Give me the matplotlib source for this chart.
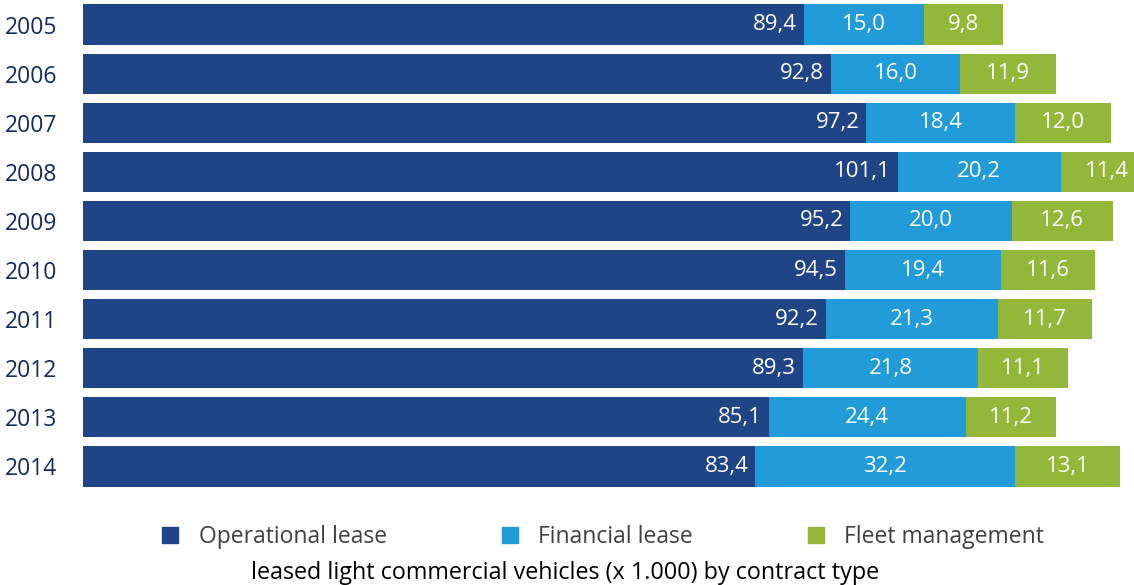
import numpy as np
import matplotlib.pyplot as plt
from matplotlib.patches import Patch

plt.rcParams['font.family'] = ['Open Sans', 'DejaVu Sans']

#### data (x 1.000 vehicles)
years = ['2005', '2006', '2007', '2008', '2009', '2010', '2011', '2012', '2013', '2014']
operational = [89.4, 92.8, 97.2, 101.1, 95.2, 94.5, 92.2, 89.3, 85.1, 83.4]
financial = [15.0, 16.0, 18.4, 20.2, 20.0, 19.4, 21.3, 21.8, 24.4, 32.2]
fleet = [9.8, 11.9, 12.0, 11.4, 12.6, 11.6, 11.7, 11.1, 11.2, 13.1]
series_names = ['Operational lease', 'Financial lease', 'Fleet management']

c_oper = '#1F4587'
c_fin = '#229BD9'
c_fleet = '#93B739'
c_year = '#14295C'


def fmt(v):
    return f'{v:.1f}'.replace('.', ',')


fig = plt.figure(figsize=(11.34, 5.85), dpi=100)
ax = fig.add_axes([83 / 1134, 94 / 585, 1 - 83 / 1134, 491 / 585])

y = np.arange(len(years))
op = np.array(operational)
fi = np.array(financial)
fl = np.array(fleet)
h = 0.82

ax.barh(y, op, height=h, color=c_oper)
ax.barh(y, fi, left=op, height=h, color=c_fin)
ax.barh(y, fl, left=op + fi, height=h, color=c_fleet)

for i in range(len(years)):
    ax.annotate(fmt(op[i]), (op[i], y[i]), xytext=(-5, 0), textcoords='offset points',
                ha='right', va='center', color='white', fontsize=16, clip_on=True)
    ax.text(op[i] + fi[i] / 2, y[i], fmt(fi[i]), ha='center', va='center',
            color='white', fontsize=16, clip_on=True)
    ax.text(op[i] + fi[i] + fl[i] / 2, y[i], fmt(fl[i]), ha='center', va='center',
            color='white', fontsize=16, clip_on=True)

ax.set_xlim(0, (1134 - 83) / 8.06)
ax.set_ylim(len(years) - 0.5, -0.5)
ax.set_yticks(y)
ax.set_yticklabels(years, color=c_year, fontsize=16.5, ha='left')
ax.tick_params(axis='y', length=0, pad=56)
ax.set_xticks([])
for s in ax.spines.values():
    s.set_visible(False)

handles = [Patch(color=c) for c in (c_oper, c_fin, c_fleet)]
leg = fig.legend(handles, series_names, loc='center', bbox_to_anchor=(0.532, 0.082), ncol=3,
                 frameon=False, fontsize=16.5, handlelength=0.7, handleheight=0.7,
                 handletextpad=0.9, columnspacing=5.0)
for t in leg.get_texts():
    t.set_color('#404040')

fig.text(0.498, 0.02, 'leased light commercial vehicles (x 1.000) by contract type',
         ha='center', va='center', fontsize=16.8, color='black')

fig.savefig('out.png', dpi=100)
